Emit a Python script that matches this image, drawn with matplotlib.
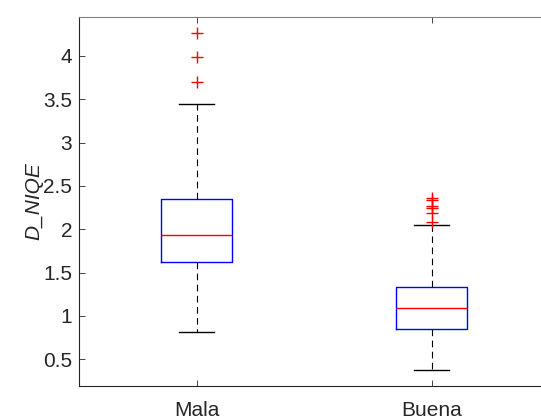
import numpy as np
import matplotlib
matplotlib.use("Agg")
from matplotlib import pyplot as plt

# box statistics
labels = ["Mala", "Buena"]
q1 = [1.625, 0.844]
med = [1.930, 1.094]
q3 = [2.352, 1.333]
whislo = [0.813, 0.378]
whishi = [3.444, 2.053]
outliers_mala = [4.266, 3.988, 3.700]
outliers_buena = [2.364, 2.335, 2.268, 2.249, 2.187, 2.080]

plt.rcParams['font.family'] = ['Liberation Sans', 'DejaVu Sans']

fig = plt.figure(figsize=(5.41, 4.20), dpi=100)
ax = fig.add_axes([79/541, 1-386/420, 470/541, 369/420])

stats = []
fliers = [outliers_mala, outliers_buena]
for i in range(len(labels)):
    stats.append(dict(label=labels[i], q1=q1[i], med=med[i], q3=q3[i],
                      whislo=whislo[i], whishi=whishi[i], fliers=fliers[i]))

ax.bxp(stats, positions=[1, 2], widths=0.30, capwidths=0.15,
       boxprops=dict(color='blue', linewidth=1.0),
       medianprops=dict(color='red', linewidth=1.0),
       whiskerprops=dict(color='black', linewidth=0.8, linestyle=(0, (6, 4))),
       capprops=dict(color='black', linewidth=1.0),
       flierprops=dict(marker='+', markeredgecolor='red', markersize=8, linestyle='none'))

ax.set_xlim(0.5, 2.5)
ax.set_ylim(0.19, 4.45)
ax.set_yticks([0.5, 1, 1.5, 2, 2.5, 3, 3.5, 4])
ax.set_yticklabels(['0.5', '1', '1.5', '2', '2.5', '3', '3.5', '4'])
ax.set_xticks([1, 2])
ax.set_xticklabels(labels)
ax.tick_params(direction='in', length=4, width=0.6, colors='#262626', labelsize=15, pad=5)
ax.tick_params(axis='x', pad=11, top=True)
ax.set_ylabel('D_NIQE', style='italic', fontsize=15, color='#262626', labelpad=0)
for s in ['left', 'bottom']:
    ax.spines[s].set_color('#262626')
    ax.spines[s].set_linewidth(0.8)
ax.spines['top'].set_color('#808080')
ax.spines['right'].set_visible(False)

fig.savefig('out.png', dpi=100)
